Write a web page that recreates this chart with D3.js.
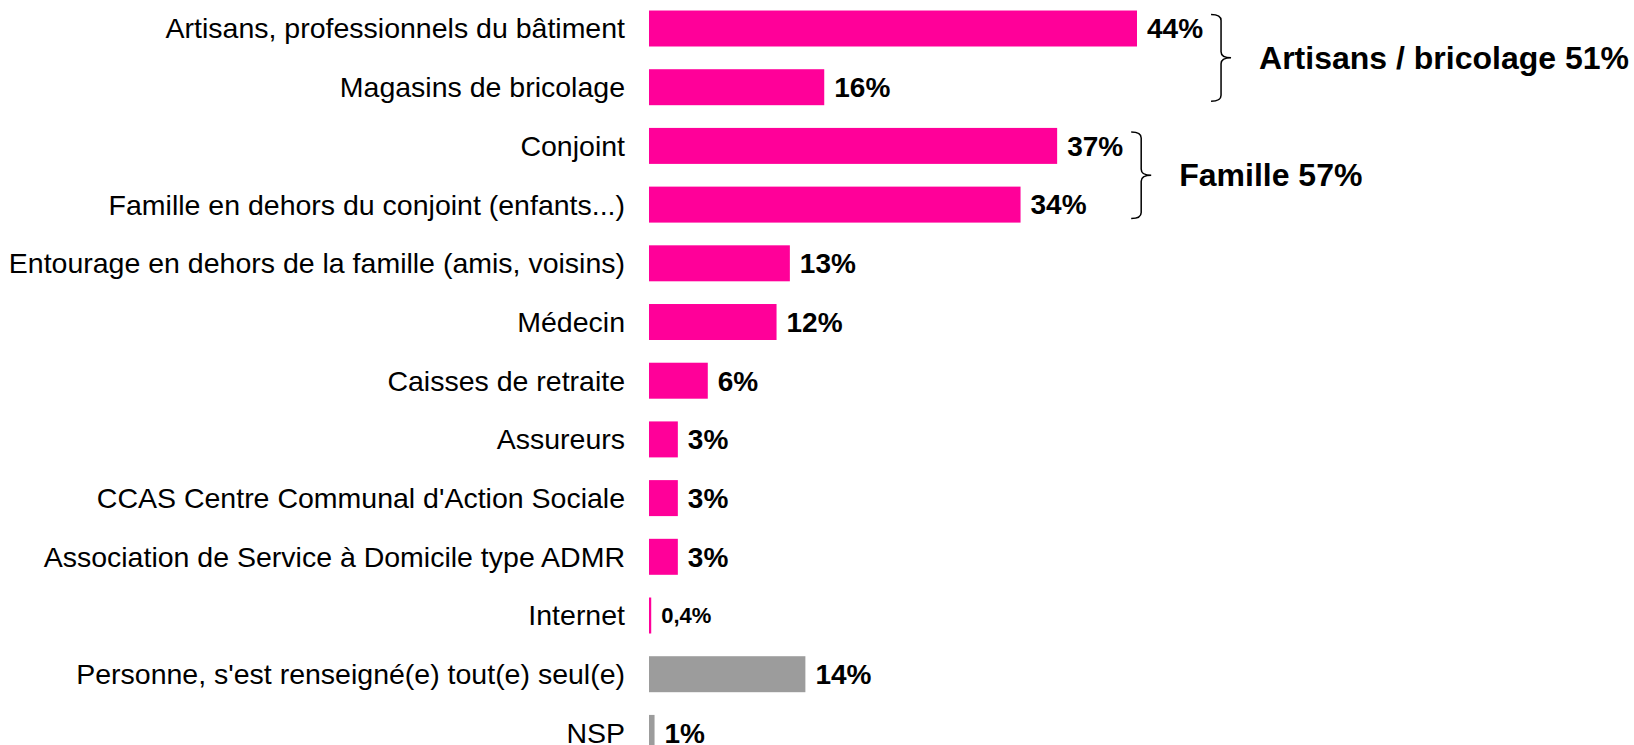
<!DOCTYPE html>
<html>
<head>
<meta charset="utf-8">
<script src="https://cdn.jsdelivr.net/npm/d3@7"></script>
<style>
  body { margin: 0; background: #fff; overflow: hidden; }
  text { font-family: "Liberation Sans", Arial, sans-serif; }
</style>
</head>
<body>
<script>
var categories = [
  'Artisans, professionnels du bâtiment',
  'Magasins de bricolage',
  'Conjoint',
  'Famille en dehors du conjoint (enfants...)',
  'Entourage en dehors de la famille (amis, voisins)',
  'Médecin',
  'Caisses de retraite',
  'Assureurs',
  "CCAS Centre Communal d'Action Sociale",
  'Association de Service à Domicile type ADMR',
  'Internet',
  "Personne, s'est renseigné(e) tout(e) seul(e)",
  'NSP'
];
// bar lengths (percent)
var values = [44, 15.8, 36.8, 33.5, 12.7, 11.5, 5.3, 2.6, 2.6, 2.6, 0.2, 14.1, 0.5];
// printed value labels
var valueLabels = ['44%', '16%', '37%', '34%', '13%', '12%', '6%', '3%', '3%', '3%', '0,4%', '14%', '1%'];
var greyRows = ["Personne, s'est renseigné(e) tout(e) seul(e)", 'NSP'];

var groups = [
  { name: 'Artisans / bricolage 51%', from: 0, to: 1 },
  { name: 'Famille 57%', from: 2, to: 3 }
];

var svgWidth = 1634;
var svgHeight = 745;

var svg = d3.select('body').append('svg')
  .attr('width', svgWidth)
  .attr('height', svgHeight);

var x = d3.scaleLinear().domain([0, 44]).range([649, 1137]);

var step = 58.7;
var y = d3.scaleBand()
  .domain(categories)
  .range([-12.2, -12.2 + step * (categories.length + 0.387)])
  .padding(0.387);

var rows = categories.map(function (c, i) {
  return { cat: c, value: values[i], label: valueLabels[i] };
});

svg.selectAll('rect.bar')
  .data(rows)
  .enter()
  .append('rect')
  .attr('class', 'bar')
  .attr('x', x(0))
  .attr('y', function (d) { return y(d.cat); })
  .attr('width', function (d) { return x(d.value) - x(0); })
  .attr('height', y.bandwidth())
  .attr('fill', function (d) { return greyRows.indexOf(d.cat) >= 0 ? '#9c9c9c' : '#ff0099'; });

svg.selectAll('text.cat')
  .data(rows)
  .enter()
  .append('text')
  .attr('class', 'cat')
  .attr('x', 625)
  .attr('y', function (d) { return y(d.cat) + y.bandwidth() / 2; })
  .attr('dy', '0.35em')
  .attr('text-anchor', 'end')
  .attr('font-size', 28.5)
  .attr('fill', '#000')
  .text(function (d) { return d.cat; });

var valText = svg.selectAll('text.val')
  .data(rows)
  .enter()
  .append('text')
  .attr('class', 'val')
  .attr('x', function (d) { return x(d.value) + 10; })
  .attr('y', function (d) { return y(d.cat) + y.bandwidth() / 2; })
  .attr('dy', '0.35em')
  .attr('font-size', function (d) { return d.value < 0.5 ? 22 : 28; })
  .attr('font-weight', 'bold')
  .attr('fill', '#000')
  .text(function (d) { return d.label; });

// braces + group totals
var valNodes = valText.nodes();
groups.forEach(function (g) {
  var ends = d3.range(g.from, g.to + 1).map(function (i) {
    return x(values[i]) + 10 + valNodes[i].getComputedTextLength();
  });
  var bx = d3.max(ends) + 8;
  var top = y(categories[g.from]) + 4;
  var bot = y(categories[g.to]) + y.bandwidth() - 4;
  var mid = (top + bot) / 2;
  var w = 20, r = 6;
  var p = d3.path();
  p.moveTo(bx, top);
  p.quadraticCurveTo(bx + w / 2, top, bx + w / 2, top + r);
  p.lineTo(bx + w / 2, mid - r);
  p.quadraticCurveTo(bx + w / 2, mid, bx + w, mid);
  p.quadraticCurveTo(bx + w / 2, mid, bx + w / 2, mid + r);
  p.lineTo(bx + w / 2, bot - r);
  p.quadraticCurveTo(bx + w / 2, bot, bx, bot);
  svg.append('path')
    .attr('d', p.toString())
    .attr('fill', 'none')
    .attr('stroke', '#000')
    .attr('stroke-width', 1.5);
  svg.append('text')
    .attr('x', bx + w + 28)
    .attr('y', mid)
    .attr('dy', '0.35em')
    .attr('font-size', 32)
    .attr('font-weight', 'bold')
    .text(g.name);
});
</script>
</body>
</html>
